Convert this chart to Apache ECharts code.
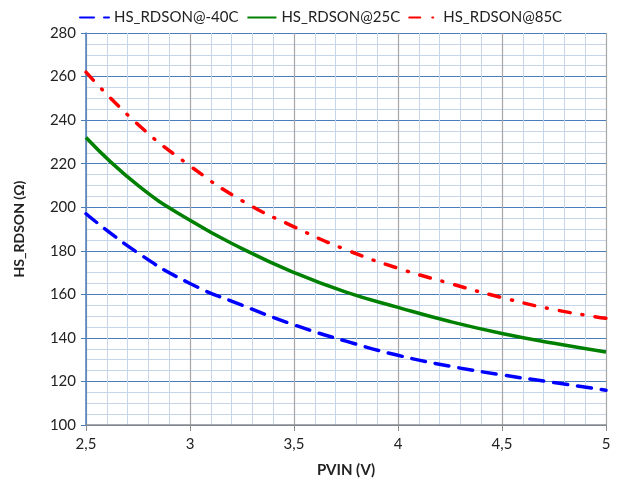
<!DOCTYPE html>
<html><head><meta charset="utf-8">
<script src="https://cdn.jsdelivr.net/npm/echarts@6/dist/echarts.min.js"></script>
<style>html,body{margin:0;padding:0;background:#fff}#c{width:618px;height:487px}</style>
</head><body><div id="c"></div>
<script>
const pvin = [2.5, 2.75, 3.0, 3.25, 3.5, 3.75, 4.0, 4.25, 4.5, 4.75, 5.0];
const rdsonM40 = [197, 179, 165, 155, 146, 138.5, 132, 127, 123, 119.5, 116];
const rdson25 = [232, 210, 194, 181, 170, 161, 154, 147.5, 142, 137.5, 133.5];
const rdson85 = [262, 238, 219, 203, 191, 180.5, 172, 165, 158.5, 153, 149];
const seriesNames = ['HS_RDSON@-40C', 'HS_RDSON@25C', 'HS_RDSON@85C'];
const font = 'Lato, "Open Sans", sans-serif';
const fmt = v => String(v).replace('.', ',');
const pairs = arr => pvin.map((x, i) => [x, arr[i]]);
const chart = echarts.init(document.getElementById('c'));
chart.setOption({
  animation: false,
  textStyle: { fontFamily: font },
  legend: {
    top: 5, left: 74, itemWidth: 29, itemHeight: 10, itemGap: 8,
    textStyle: { fontSize: 15, color: '#222', fontFamily: font },
    itemStyle: { opacity: 0 },
    data: seriesNames
  },
  grid: { left: 86, right: 12, top: 33, bottom: 62 },
  xAxis: {
    type: 'value', min: 2.5, max: 5, interval: 0.5,
    name: 'PVIN (V)', nameLocation: 'middle', nameGap: 38,
    nameTextStyle: { fontWeight: 'bold', fontSize: 15, color: '#222', fontFamily: font },
    axisLine: { lineStyle: { color: '#8c8c8c', width: 1.5 } },
    axisTick: { show: true, length: 6, lineStyle: { color: '#8c8c8c' } },
    axisLabel: { fontSize: 15, color: '#222', margin: 12, formatter: fmt },
    splitLine: { show: true, lineStyle: { color: '#a6a6a6', width: 1.2 } },
    minorTick: { show: false, splitNumber: 5 },
    minorSplitLine: { show: true, lineStyle: { color: '#c5d5ea', width: 1 } }
  },
  yAxis: {
    type: 'value', min: 100, max: 280, interval: 20,
    name: 'HS_RDSON (Ω)', nameLocation: 'middle', nameGap: 60,
    nameTextStyle: { fontWeight: 'bold', fontSize: 14, color: '#222', fontFamily: font },
    axisLine: { show: true, lineStyle: { color: '#4a7ebb', width: 1.5 } },
    axisTick: { show: true, length: 5, lineStyle: { color: '#4a7ebb' } },
    axisLabel: { fontSize: 15, color: '#222', margin: 10 },
    splitLine: { show: true, lineStyle: { color: '#4a7ebb', width: 1.2 } },
    minorTick: { show: false, splitNumber: 4 },
    minorSplitLine: { show: true, lineStyle: { color: '#c5d5ea', width: 1 } }
  },
  series: [
    { name: seriesNames[0], type: 'line', smooth: true, symbol: 'none', data: pairs(rdsonM40),
      itemStyle: { color: '#0000ff' },
      lineStyle: { color: '#0000ff', width: 3.5, type: [14, 10], cap: 'round' } },
    { name: seriesNames[1], type: 'line', smooth: true, symbol: 'none', data: pairs(rdson25),
      itemStyle: { color: '#008000' },
      lineStyle: { color: '#008000', width: 3.5, type: 'solid' } },
    { name: seriesNames[2], type: 'line', smooth: true, symbol: 'none', data: pairs(rdson85),
      itemStyle: { color: '#ff0000' },
      lineStyle: { color: '#ff0000', width: 3.5, type: [11, 12, 1, 12], cap: 'round' } }
  ]
});
</script></body></html>
